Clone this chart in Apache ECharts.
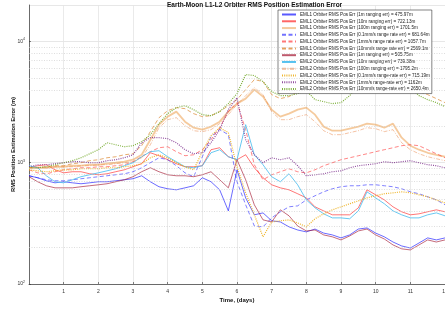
<!DOCTYPE html>
<html>
<head>
<meta charset="utf-8">
<script src="https://cdn.jsdelivr.net/npm/echarts@6/dist/echarts.min.js"></script>
<style>html,body{margin:0;padding:0;background:#fff;}#c{width:445px;height:309px;}</style>
</head>
<body>
<div id="c"></div>
<script>
const days = [0,0.25,0.5,0.75,1,1.25,1.5,1.75,2,2.25,2.5,2.75,3,3.25,3.5,3.75,4,4.25,4.5,4.75,5,5.25,5.5,5.75,6,6.25,6.5,6.75,7,7.25,7.5,7.75,8,8.25,8.5,8.75,9,9.25,9.5,9.75,10,10.25,10.5,10.75,11,11.25,11.5,11.75,12];

const eml1_1m = [781,752,710,683,697,683,671,683,697,697,710,724,738,781,697,634,610,598,621,646,752,697,598,401,875,513,372,386,332,325,296,279,269,284,263,254,240,254,284,290,263,245,222,206,198,218,240,231,240];
const eml1_10m = [909,945,963,875,826,843,843,811,796,811,843,875,927,982,1209,1142,1059,982,927,927,945,1281,1330,1121,1059,1164,909,752,658,621,598,555,513,433,401,372,372,372,425,598,544,494,433,394,372,379,394,409,394];
const eml1_100m = [909,909,909,927,927,945,945,963,963,982,1000,1020,1059,1164,1549,2061,2400,2640,2182,1946,1874,1985,2182,2640,3073,3380,4011,3512,2741,2400,2540,2741,2846,2492,1985,1838,1838,1910,1985,2101,2061,1946,2101,1609,1382,1281,1209,1164,1121];
const eml1_01mms = [781,752,724,710,710,724,738,752,767,781,796,811,843,909,1000,1099,1059,945,826,767,1121,1641,1874,1704,697,450,301,296,351,394,433,441,494,534,576,610,634,646,646,658,658,646,634,610,576,555,524,494,450];
const eml1_1mms = [875,826,811,843,875,892,909,909,927,927,945,963,1020,1121,1234,1330,1355,1234,1142,1164,1281,1549,1946,2640,3131,1874,963,724,796,843,892,843,826,875,945,1000,1059,1099,1142,1186,1234,1281,1330,1382,1408,1382,1281,1186,1099];
const eml1_10mms = [909,909,927,945,945,982,1000,1040,1059,1099,1121,1164,1186,1382,1805,2353,2689,2846,2794,2540,2400,2445,2640,2958,3316,4011,4853,4673,3647,3380,3512,3862,4165,4412,4582,4673,4853,5038,5236,5440,5654,5654,5440,5038,4497,3862,3647,3380,3131];
const eml2_1m = [767,697,646,621,621,621,634,646,658,671,697,724,767,843,909,843,796,781,781,767,796,843,724,621,1059,724,450,338,325,409,365,301,274,279,254,245,231,249,274,284,254,235,210,195,191,210,231,222,231];
const eml2_10m = [945,909,781,697,683,724,767,796,826,858,892,945,1000,1121,1234,1257,1121,1020,927,909,945,1209,1281,1121,1059,2061,1164,963,767,697,811,658,494,425,379,351,351,345,401,576,513,459,401,372,351,351,372,386,365];
const eml2_100m = [909,909,909,927,927,927,945,945,963,963,982,1000,1020,1099,1408,1946,2266,2353,2022,1838,1805,1874,2101,2492,3015,3578,4165,3647,2640,2266,2266,2400,2492,2182,1838,1704,1704,1770,1838,1946,1910,1805,1874,1462,1281,1186,1121,1079,1040];
const eml2_01mms = [875,858,843,858,875,875,892,892,892,909,909,927,945,982,1099,1164,1099,1000,927,875,1234,1672,1946,1770,927,565,372,245,325,332,338,319,296,345,379,409,433,459,485,513,534,555,565,576,565,544,524,494,466];
const eml2_1mms = [927,963,963,982,1000,1020,1020,1000,1000,1040,1059,1099,1164,1462,1609,1609,1579,1462,1281,1186,1209,1462,1874,2741,3443,1549,1164,1000,1099,1059,1099,945,781,796,811,843,858,909,945,963,982,1020,1000,1020,1040,1000,963,945,909];
const eml2_10mms = [909,909,927,963,1000,1040,1099,1186,1281,1462,1408,1355,1382,1492,1704,2101,2540,2846,2958,2741,2492,2445,2640,3073,3717,5337,5236,4673,3862,3578,3578,3717,3937,3316,3192,3073,3131,3578,4328,4853,5236,5440,5236,4853,4165,3578,3316,3131,2902];

const seriesNames = [
  'EML1 Orbiter RMS Pos Err (1m ranging err) = 475.97m',
  'EML1 Orbiter RMS Pos Err (10m ranging err) = 722.13m',
  'EML1 Orbiter RMS Pos Err (100m ranging err) = 1701.5m',
  'EML1 Orbiter RMS Pos Err (0.1mm/s range rate err) = 681.64m',
  'EML1 Orbiter RMS Pos Err (1mm/s range rate err) = 1057.7m',
  'EML1 Orbiter RMS Pos Err (10mm/s range rate err) = 2569.1m',
  'EML2 Orbiter RMS Pos Err (1m ranging err) = 505.75m',
  'EML2 Orbiter RMS Pos Err (10m ranging err) = 739.38m',
  'EML2 Orbiter RMS Pos Err (100m ranging err) = 1795.2m',
  'EML2 Orbiter RMS Pos Err (0.1mm/s range-rate err) = 715.19m',
  'EML2 Orbiter RMS Pos Err (1mm/s range-rate err) = 1162m',
  'EML2 Orbiter RMS Pos Err (10mm/s range-rate err) = 2650.4m'
];
const seriesValues = [eml1_1m, eml1_10m, eml1_100m, eml1_01mms, eml1_1mms, eml1_10mms, eml2_1m, eml2_10m, eml2_100m, eml2_01mms, eml2_1mms, eml2_10mms];
const minorGrid = [200,300,400,500,600,700,800,900,2000,3000,4000,5000,6000,7000,8000,9000];

const styles = [
  {color:'rgba(0,0,255,0.65)', width:0.9, type:'solid'},
  {color:'rgba(255,0,0,0.6)', width:0.9, type:'solid'},
  {color:'rgba(236,150,60,0.5)', width:1.8, type:'solid'},
  {color:'rgba(40,40,255,0.65)', width:0.9, type:[4,2.5]},
  {color:'rgba(255,30,30,0.6)', width:0.9, type:[4,2.5]},
  {color:'rgba(217,130,40,0.75)', width:0.9, type:[4,2.5]},
  {color:'rgba(162,20,47,0.7)', width:0.9, type:'solid'},
  {color:'rgba(77,190,238,0.95)', width:0.9, type:'solid'},
  {color:'rgba(232,130,70,0.55)', width:0.9, type:[4,1.5,1,1.5]},
  {color:'rgba(237,177,32,0.95)', width:1.2, type:[1,1.2]},
  {color:'rgba(126,47,142,0.85)', width:1.2, type:[1,1.2]},
  {color:'rgba(119,172,48,0.95)', width:1.2, type:[1,1.2]}
];

const FONT = '"Liberation Sans", Arial, Helvetica, sans-serif';
const series = [{
  type:'line', name:'_grid', data:[], silent:true,
  markLine:{silent:true, symbol:['none','none'], label:{show:false},
    lineStyle:{type:[1,1.5], color:'#c8c8c8', width:0.6},
    data: minorGrid.map(v => ({yAxis:v}))}
}];
seriesValues.forEach((vals, i) => {
  series.push({
    type:'line', name:seriesNames[i], showSymbol:false, symbol:'none',
    data: days.map((d, k) => [d, vals[k]]),
    lineStyle: styles[i], itemStyle:{color: styles[i].color},
    emphasis:{disabled:true}
  });
});

const chart = echarts.init(document.getElementById('c'), null, {renderer:'canvas'});
chart.setOption({
  animation:false,
  backgroundColor:'#fff',
  title:{text:'Earth-Moon L1-L2 Orbiter RMS Position Estimation Error', left:162, top:-3,
    textStyle:{fontFamily:FONT, fontSize:6.5, fontWeight:'bold', color:'#111'}},
  grid:{left:29, right:0, top:5, bottom:25, outerBoundsMode:'none', containLabel:false},
  legend:{
    data: seriesNames, orient:'vertical', left:278, top:10,
    itemWidth:14, itemHeight:5, itemGap:1.78,
    padding:[2,2,2,3], backgroundColor:'#fff', borderColor:'#333', borderWidth:0.6,
    itemStyle:{color:'transparent', borderColor:'transparent', borderWidth:0, opacity:0},
    textStyle:{fontFamily:FONT, fontSize:4.6, color:'#222', lineHeight:5, padding:[0,0,0,-1]},
    selectedMode:false
  },
  xAxis:{type:'value', min:0, max:12, interval:1,
    name:'Time, (days)', nameLocation:'middle', nameGap:13, nameMoveOverlap:false,
    nameTextStyle:{fontFamily:FONT, fontSize:6, fontWeight:'bold', color:'#111'},
    axisLine:{lineStyle:{color:'#333', width:0.7}},
    axisTick:{inside:true, length:2, lineStyle:{color:'#333', width:0.6}},
    axisLabel:{showMinLabel:false, fontFamily:FONT, fontSize:5, color:'#333', margin:5},
    splitLine:{show:true, lineStyle:{color:'#e4e4e4', width:0.8}}
  },
  yAxis:{type:'log', logBase:10, min:100, max:20000,
    name:'RMS Position Estimation Error (m)', nameLocation:'middle', nameGap:13, nameMoveOverlap:false,
    nameTextStyle:{fontFamily:FONT, fontSize:5.8, fontWeight:'bold', color:'#111'},
    axisLine:{show:true, lineStyle:{color:'#333', width:0.7}},
    axisTick:{inside:true, length:2, lineStyle:{color:'#333', width:0.6}},
    axisLabel:{showMaxLabel:false, margin:4,
      formatter: v => '{a|10}{b|' + Math.round(Math.log10(v)) + '}',
      rich:{a:{fontFamily:FONT, fontSize:5, color:'#333'}, b:{fontFamily:FONT, fontSize:3.5, color:'#333', verticalAlign:'top', padding:[0,0,4,0]}}},
    splitLine:{show:true, lineStyle:{color:'#dcdcdc', width:0.7}}
  },
  series: series
});
</script>
</body>
</html>
